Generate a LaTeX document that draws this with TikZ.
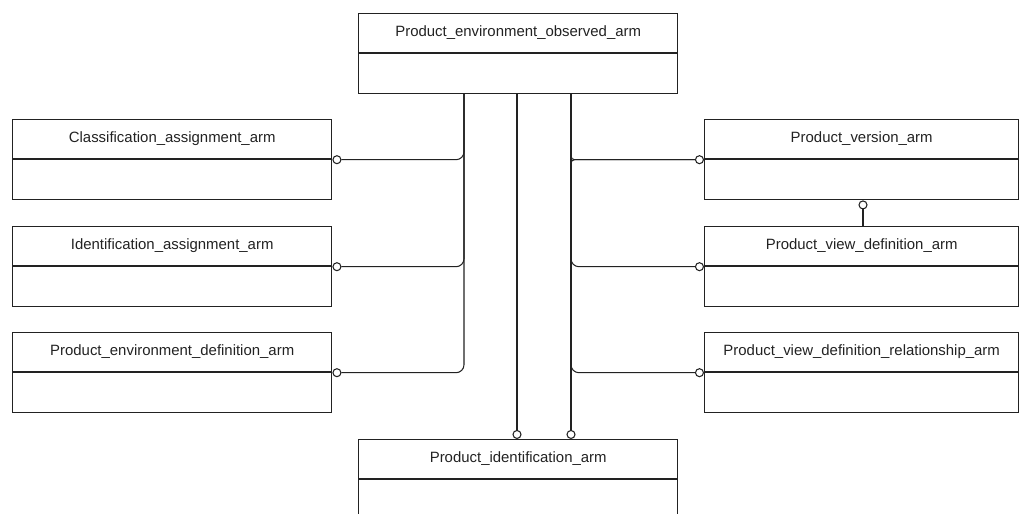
\documentclass[tikz,border=0pt]{standalone}
\usepackage{fontspec}
\setmainfont{Liberation Sans}
\usetikzlibrary{calc}
\definecolor{ink}{HTML}{222222}
\newcommand{\umlbox}[5]{%
  \node[box, minimum width=#4*0.02cm] (#1) at (#2,#3) {};
  \draw[divider] ($(#1.north west)+(0,40)$) -- ($(#1.north east)+(0,40)$);
  \node[lbl] (#1-t) at ($(#1.north)+(0,20)$) {#5};
}
\begin{document}
\begin{tikzpicture}[x=0.02cm,y=-0.02cm,
  box/.style={draw=ink, line width=0.8pt, minimum height=1.6cm, inner sep=0pt, anchor=north west},
  divider/.style={draw=ink, line width=0.8pt},
  lbl/.style={text=ink, font=\fontsize{8.5}{10}\selectfont, inner sep=0pt},
  conn/.style={draw=ink, line width=0.6pt, rounded corners=4.5pt},
  endc/.style={circle, draw=ink, fill=white, line width=0.6pt, minimum size=8*0.02cm, inner sep=0pt}]
\useasboundingbox (0,0) rectangle (1019,514);
\clip (0,0) rectangle (1019,514);
% boxes
\umlbox{peo}{358}{13}{319}{Product\_environment\_observed\_arm}
\umlbox{cls}{12}{119}{319}{Classification\_assignment\_arm}
\umlbox{ida}{12}{226}{319}{Identification\_assignment\_arm}
\umlbox{ped}{12}{332}{319}{Product\_environment\_definition\_arm}
\umlbox{pver}{704}{119}{314}{Product\_version\_arm}
\umlbox{pvd}{704}{226}{314}{Product\_view\_definition\_arm}
\umlbox{pvdr}{704}{332}{314}{Product\_view\_definition\_relationship\_arm}
\umlbox{pid}{358}{439}{319}{Product\_identification\_arm}
% trunk coordinates
\coordinate (tl) at (464,93);
\coordinate (tm) at (517,93);
\coordinate (tr) at (571,93);
% end circles
\node[endc, anchor=west] (c1) at (cls.east) {};
\node[endc, anchor=west] (c2) at (ida.east) {};
\node[endc, anchor=west] (c3) at (ped.east) {};
\node[endc, anchor=east] (c4) at (pver.west) {};
\node[endc, anchor=east] (c5) at (pvd.west) {};
\node[endc, anchor=east] (c6) at (pvdr.west) {};
\node[endc, anchor=south] (c7) at (pid.north -| tm) {};
\node[endc, anchor=south] (c8) at (pid.north -| tr) {};
\node[endc, anchor=north] (c9) at (pver.south -| 863,0) {};
% connectors: left
\draw[conn] (tl) -- (tl |- c1) -- (c1.east);
\draw[conn] (tl) -- (tl |- c2) -- (c2.east);
\draw[conn] (tl) -- (tl |- c3) -- (c3.east);
% middle
\draw[conn] (tm) -- (c7.north);
% right
\draw[conn, rounded corners=2pt] (tr) -- (tr |- c4) -- (c4.west);
\draw[conn, rounded corners=2pt] (c8.north) -- (tr |- c4) -- (c4.west);
\draw[conn] (tr) -- (tr |- c5) -- (c5.west);
\draw[conn] (tr) -- (tr |- c6) -- (c6.west);
\draw[conn] (tr) -- (c8.north);
% version link
\draw[conn] (c9.south) -- (pvd.north -| c9);
\end{tikzpicture}
\end{document}
